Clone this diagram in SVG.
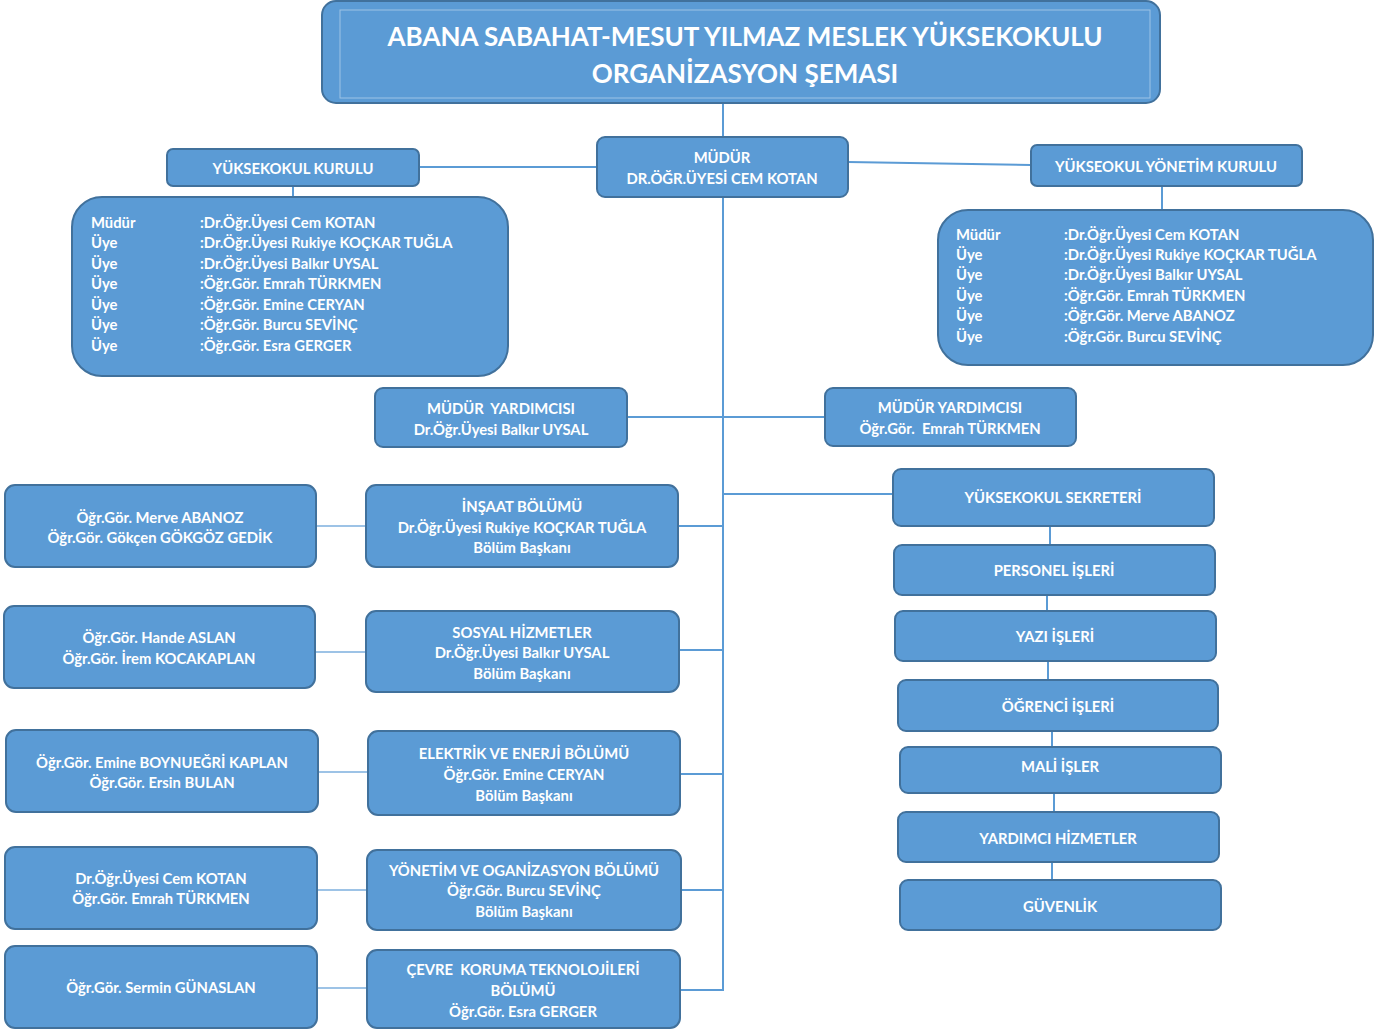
<svg xmlns="http://www.w3.org/2000/svg" width="1380" height="1032" viewBox="0 0 1380 1032">
<style>
text{white-space:pre}
.b{fill:#5B9BD5;stroke:#41719C;stroke-width:2}
.t{fill:#fff;font-family:Lato,"Open Sans","Liberation Sans",sans-serif;font-weight:bold;font-size:14.8px;text-anchor:middle}
.l{fill:#fff;font-family:Lato,"Open Sans","Liberation Sans",sans-serif;font-weight:bold;font-size:14.8px}
.h{fill:#fff;font-family:Lato,"Open Sans","Liberation Sans",sans-serif;font-weight:bold;font-size:26px;text-anchor:middle}
.c{fill:none;stroke:#5B9BD5;stroke-width:2}
.cl{fill:none;stroke:#9DC3E6;stroke-width:2}
</style>
<rect width="1380" height="1032" fill="#fff"/>
<g id="connectors">
<path class="c" d="M723 103V137M723 197V990H680"/>
<path class="c" d="M419 167H597M848 162L1031 165M293 186V197M1162 186V210"/>
<path class="c" d="M627 417H825M723 494H893"/>
<path class="c" d="M678 526H723M679 650H723M680 774H723M681 890H723"/>
<path class="c" d="M1050 526V545M1047 595V611M1048 661V680M1052 731V747M1054 793V812M1052 862V880"/>
<path class="cl" d="M316 526H366M315 652H366M318 772H368M317 890H367M317 988H367"/>
</g>
<g id="title">
<rect class="b" x="322" y="1" width="838" height="102" rx="14"/>
<rect x="340" y="10" width="810" height="88" fill="none" stroke="#9DC3E6" stroke-width="1"/>
<text class="h" x="745" y="46">ABANA SABAHAT-MESUT YILMAZ MESLEK YÜKSEKOKULU</text>
<text class="h" x="745" y="83">ORGANİZASYON ŞEMASI</text>
</g>
<g id="mudur">
<rect class="b" x="597" y="137" width="251" height="60" rx="8"/>
<text class="t" x="722" y="163">MÜDÜR</text>
<text class="t" x="722" y="184">DR.ÖĞR.ÜYESİ CEM KOTAN</text>
</g>
<g id="yuksekokul-kurulu">
<rect class="b" x="167" y="149" width="252" height="37" rx="6"/>
<text class="t" x="293" y="174">YÜKSEKOKUL KURULU</text>
</g>
<g id="yonetim-kurulu">
<rect class="b" x="1031" y="145" width="271" height="41" rx="6"/>
<text class="t" x="1166" y="172">YÜKSEOKUL YÖNETİM KURULU</text>
</g>
<g id="kurul-liste">
<rect class="b" x="72" y="197" width="436" height="179" rx="30"/>
<text class="l" x="91" y="228">Müdür</text><text class="l" x="200" y="228">:Dr.Öğr.Üyesi Cem KOTAN</text>
<text class="l" x="91" y="248">Üye</text><text class="l" x="200" y="248">:Dr.Öğr.Üyesi Rukiye KOÇKAR TUĞLA</text>
<text class="l" x="91" y="269">Üye</text><text class="l" x="200" y="269">:Dr.Öğr.Üyesi Balkır UYSAL</text>
<text class="l" x="91" y="289">Üye</text><text class="l" x="200" y="289">:Öğr.Gör. Emrah TÜRKMEN</text>
<text class="l" x="91" y="310">Üye</text><text class="l" x="200" y="310">:Öğr.Gör. Emine CERYAN</text>
<text class="l" x="91" y="330">Üye</text><text class="l" x="200" y="330">:Öğr.Gör. Burcu SEVİNÇ</text>
<text class="l" x="91" y="351">Üye</text><text class="l" x="200" y="351">:Öğr.Gör. Esra GERGER</text>
</g>
<g id="yonetim-liste">
<rect class="b" x="938" y="210" width="435" height="155" rx="30"/>
<text class="l" x="956" y="240">Müdür</text><text class="l" x="1064" y="240">:Dr.Öğr.Üyesi Cem KOTAN</text>
<text class="l" x="956" y="260">Üye</text><text class="l" x="1064" y="260">:Dr.Öğr.Üyesi Rukiye KOÇKAR TUĞLA</text>
<text class="l" x="956" y="280">Üye</text><text class="l" x="1064" y="280">:Dr.Öğr.Üyesi Balkır UYSAL</text>
<text class="l" x="956" y="301">Üye</text><text class="l" x="1064" y="301">:Öğr.Gör. Emrah TÜRKMEN</text>
<text class="l" x="956" y="321">Üye</text><text class="l" x="1064" y="321">:Öğr.Gör. Merve ABANOZ</text>
<text class="l" x="956" y="342">Üye</text><text class="l" x="1064" y="342">:Öğr.Gör. Burcu SEVİNÇ</text>
</g>
<g id="yardimci-1">
<rect class="b" x="375" y="388" width="252" height="59" rx="8"/>
<text class="t" x="501" y="414">MÜDÜR  YARDIMCISI</text>
<text class="t" x="501" y="435">Dr.Öğr.Üyesi Balkır UYSAL</text>
</g>
<g id="yardimci-2">
<rect class="b" x="825" y="388" width="251" height="58" rx="8"/>
<text class="t" x="950" y="413">MÜDÜR YARDIMCISI</text>
<text class="t" x="950" y="434">Öğr.Gör.  Emrah TÜRKMEN</text>
</g>
<g id="sekreter">
<rect class="b" x="893" y="469" width="321" height="57" rx="8"/>
<text class="t" x="1053" y="503">YÜKSEKOKUL SEKRETERİ</text>
</g>
<g id="personel">
<rect class="b" x="894" y="545" width="321" height="50" rx="8"/>
<text class="t" x="1054" y="576">PERSONEL İŞLERİ</text>
</g>
<g id="yazi">
<rect class="b" x="895" y="611" width="321" height="50" rx="8"/>
<text class="t" x="1055" y="642">YAZI İŞLERİ</text>
</g>
<g id="ogrenci">
<rect class="b" x="898" y="680" width="320" height="51" rx="8"/>
<text class="t" x="1058" y="712">ÖĞRENCİ İŞLERİ</text>
</g>
<g id="mali">
<rect class="b" x="900" y="747" width="321" height="46" rx="8"/>
<text class="t" x="1060" y="772">MALİ İŞLER</text>
</g>
<g id="yardimci-hizmetler">
<rect class="b" x="898" y="812" width="321" height="50" rx="8"/>
<text class="t" x="1058" y="844">YARDIMCI HİZMETLER</text>
</g>
<g id="guvenlik">
<rect class="b" x="900" y="880" width="321" height="50" rx="8"/>
<text class="t" x="1060" y="912">GÜVENLİK</text>
</g>
<g id="insaat">
<rect class="b" x="366" y="485" width="312" height="82" rx="10"/>
<text class="t" x="522" y="512">İNŞAAT BÖLÜMÜ</text>
<text class="t" x="522" y="533">Dr.Öğr.Üyesi Rukiye KOÇKAR TUĞLA</text>
<text class="t" x="522" y="553">Bölüm Başkanı</text>
</g>
<g id="sosyal">
<rect class="b" x="366" y="611" width="313" height="81" rx="10"/>
<text class="t" x="522" y="638">SOSYAL HİZMETLER</text>
<text class="t" x="522" y="658">Dr.Öğr.Üyesi Balkır UYSAL</text>
<text class="t" x="522" y="679">Bölüm Başkanı</text>
</g>
<g id="elektrik">
<rect class="b" x="368" y="731" width="312" height="84" rx="10"/>
<text class="t" x="524" y="759">ELEKTRİK VE ENERJİ BÖLÜMÜ</text>
<text class="t" x="524" y="780">Öğr.Gör. Emine CERYAN</text>
<text class="t" x="524" y="801">Bölüm Başkanı</text>
</g>
<g id="yonetim-org">
<rect class="b" x="367" y="850" width="314" height="80" rx="10"/>
<text class="t" x="524" y="876">YÖNETİM VE OGANİZASYON BÖLÜMÜ</text>
<text class="t" x="524" y="896">Öğr.Gör. Burcu SEVİNÇ</text>
<text class="t" x="524" y="917">Bölüm Başkanı</text>
</g>
<g id="cevre">
<rect class="b" x="367" y="950" width="313" height="78" rx="10"/>
<text class="t" x="523" y="975">ÇEVRE  KORUMA TEKNOLOJİLERİ</text>
<text class="t" x="523" y="996">BÖLÜMÜ</text>
<text class="t" x="523" y="1017">Öğr.Gör. Esra GERGER</text>
</g>
<g id="insaat-uyeler">
<rect class="b" x="5" y="485" width="311" height="82" rx="10"/>
<text class="t" x="160" y="523">Öğr.Gör. Merve ABANOZ</text>
<text class="t" x="160" y="543">Öğr.Gör. Gökçen GÖKGÖZ GEDİK</text>
</g>
<g id="sosyal-uyeler">
<rect class="b" x="4" y="606" width="311" height="82" rx="10"/>
<text class="t" x="159" y="643">Öğr.Gör. Hande ASLAN</text>
<text class="t" x="159" y="664">Öğr.Gör. İrem KOCAKAPLAN</text>
</g>
<g id="elektrik-uyeler">
<rect class="b" x="6" y="730" width="312" height="82" rx="10"/>
<text class="t" x="162" y="768">Öğr.Gör. Emine BOYNUEĞRİ KAPLAN</text>
<text class="t" x="162" y="788">Öğr.Gör. Ersin BULAN</text>
</g>
<g id="yonetim-uyeler">
<rect class="b" x="5" y="847" width="312" height="82" rx="10"/>
<text class="t" x="161" y="884">Dr.Öğr.Üyesi Cem KOTAN</text>
<text class="t" x="161" y="904">Öğr.Gör. Emrah TÜRKMEN</text>
</g>
<g id="cevre-uyeler">
<rect class="b" x="5" y="946" width="312" height="82" rx="10"/>
<text class="t" x="161" y="993">Öğr.Gör. Sermin GÜNASLAN</text>
</g>
</svg>
